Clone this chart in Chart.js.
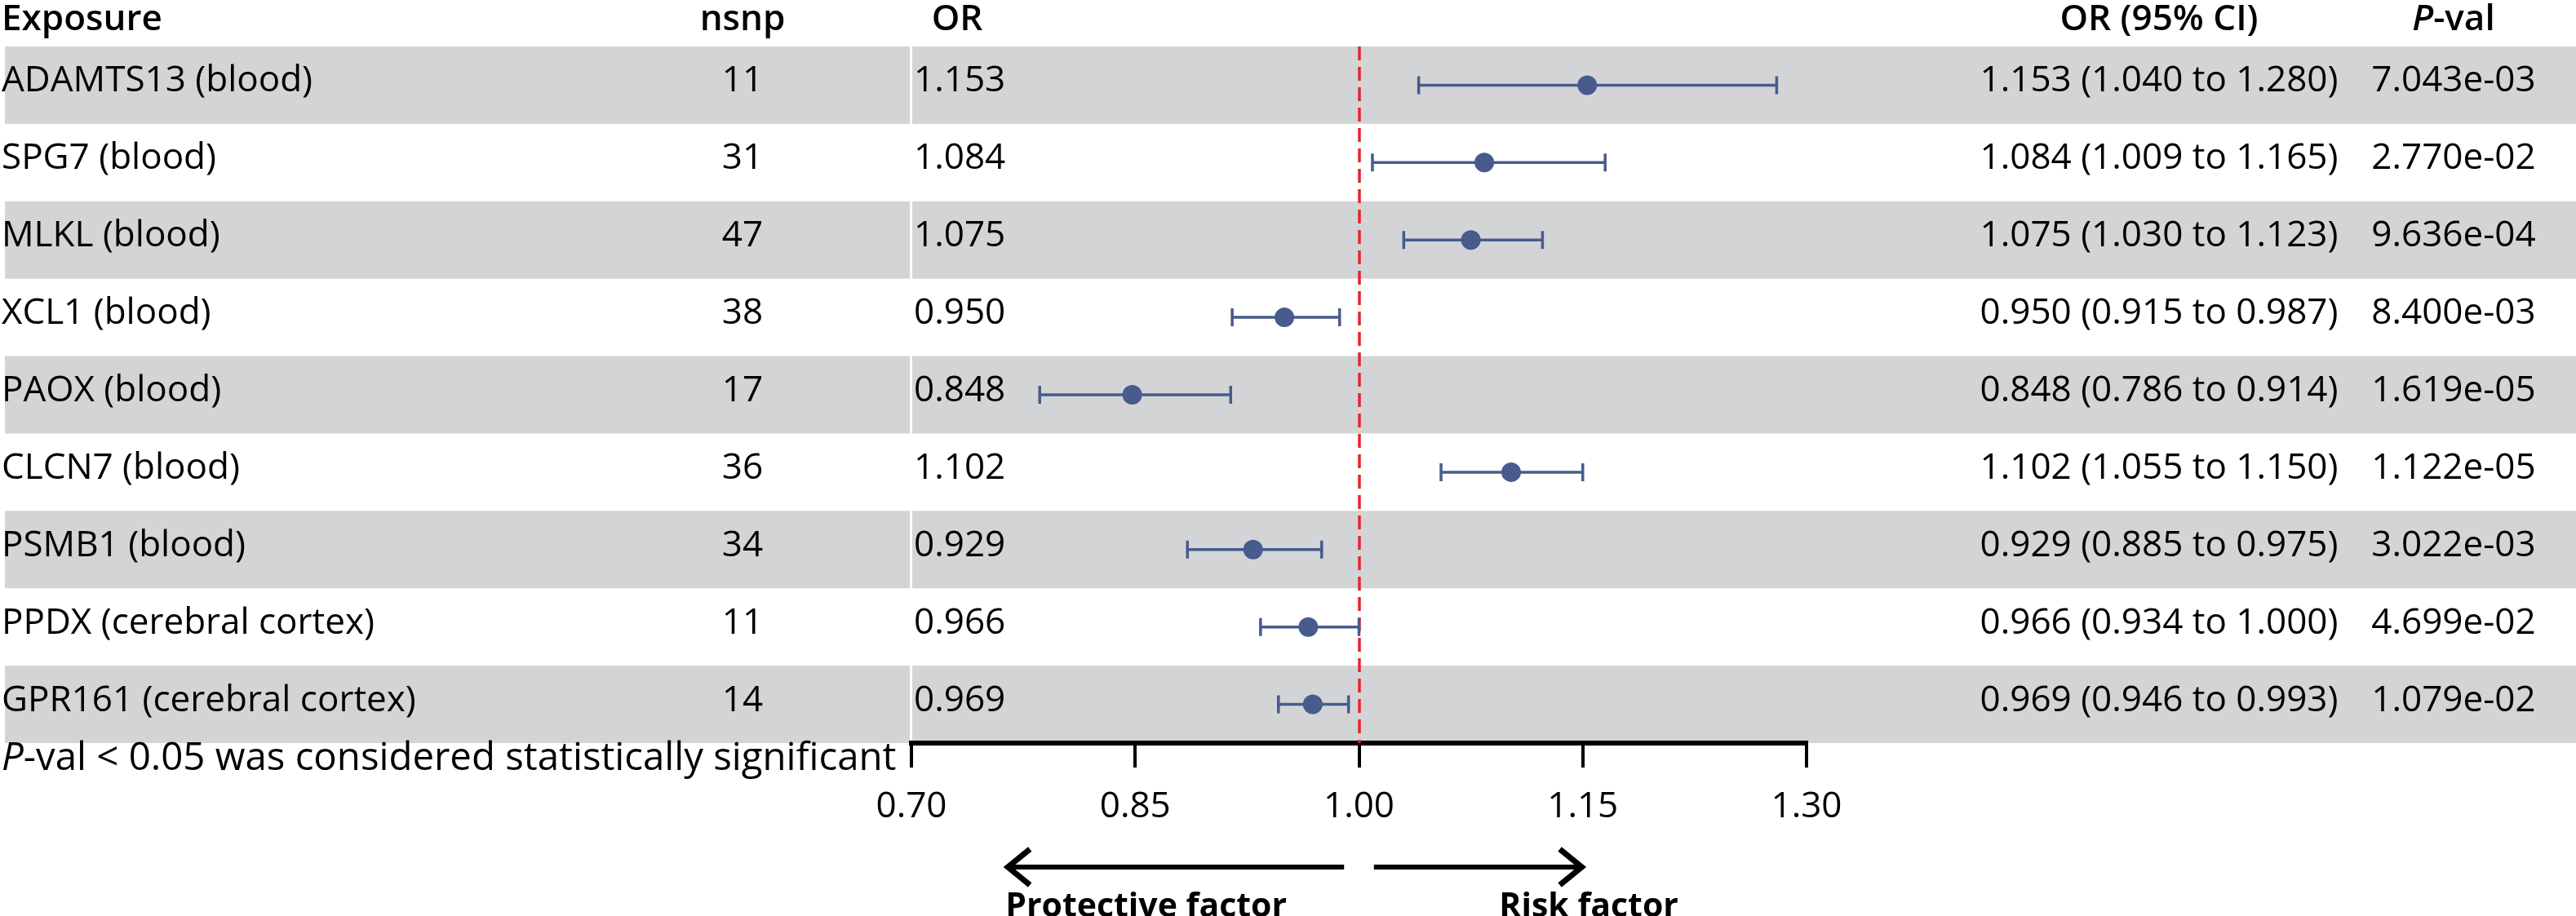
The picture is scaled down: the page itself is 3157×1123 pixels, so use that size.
<!DOCTYPE html>
<html>
<head>
<meta charset="utf-8">
<script src="https://cdn.jsdelivr.net/npm/chart.js@4.4.1/dist/chart.umd.min.js"></script>
<style>
  html, body { margin: 0; padding: 0; background: #fff; }
  canvas { display: block; }
</style>
</head>
<body>
<canvas id="forest" width="3157" height="1123" style="width:3157px;height:1123px"></canvas>
<script>
// data
const exposures = [
    "ADAMTS13 (blood)", "SPG7 (blood)", "MLKL (blood)", "XCL1 (blood)", "PAOX (blood)",
    "CLCN7 (blood)", "PSMB1 (blood)", "PPDX (cerebral cortex)", "GPR161 (cerebral cortex)"
];
const nsnp = [11, 31, 47, 38, 17, 36, 34, 11, 14];
const orValues = [1.153, 1.084, 1.075, 0.950, 0.848, 1.102, 0.929, 0.966, 0.969];
const ciLow = [1.040, 1.009, 1.030, 0.915, 0.786, 1.055, 0.885, 0.934, 0.946];
const ciHigh = [1.280, 1.165, 1.123, 0.987, 0.914, 1.150, 0.975, 1.000, 0.993];
const pValues = ["7.043e-03", "2.770e-02", "9.636e-04", "8.400e-03", "1.619e-05",
    "1.122e-05", "3.022e-03", "4.699e-02", "1.079e-02"];
const tickValues = [0.70, 0.85, 1.00, 1.15, 1.30];

// look
const FONT = "'Open Sans', 'Noto Sans', sans-serif";
const dotColor = "#475b8d";
const bandColor = "#d3d4d6";
const refLine = 1.0;

// column positions (px)
const colExposure = 2;
const colNsnp = 910;
const colOr = 1120;
const colOrHead = 1173;
const colCi = 2646;
const colP = 3007;

function drawParts(c, parts, x, y, align) {
    // parts: [[text, font], ...]
    let total = 0;
    parts.forEach(p => { c.font = p[1]; total += c.measureText(p[0]).width; });
    let start = x;
    if (align === "center") start = x - total / 2;
    else if (align === "right") start = x - total;
    c.textAlign = "left";
    parts.forEach(p => {
        c.font = p[1];
        c.fillText(p[0], start, y);
        start += c.measureText(p[0]).width;
    });
}

const forestPlugin = {
    id: "forest",
    beforeDraw(chart) {
        const c = chart.ctx;
        const yS = chart.scales.y;
        const area = chart.chartArea;
        c.save();
        // alternating row bands
        for (let i = 0; i < exposures.length; i += 2) {
            const top = yS.getPixelForValue(i - 0.5);
            const bot = yS.getPixelForValue(i + 0.5);
            c.fillStyle = bandColor;
            c.fillRect(6, top, chart.width - 6, bot - top);
            c.fillStyle = "#fff";
            c.fillRect(area.left - 2, top, 3, bot - top);
        }
        c.restore();
    },
    beforeDatasetsDraw(chart) {
        const c = chart.ctx;
        const xS = chart.scales.x;
        const yS = chart.scales.y;
        const area = chart.chartArea;
        c.save();
        // reference line at OR = 1
        c.strokeStyle = "#e8232b";
        c.lineWidth = 3.5;
        c.setLineDash([17, 8]);
        const xr = Math.round(xS.getPixelForValue(refLine));
        c.beginPath();
        c.moveTo(xr, area.top);
        c.lineTo(xr, area.bottom);
        c.stroke();
        c.setLineDash([]);
        // confidence intervals
        c.strokeStyle = dotColor;
        c.lineWidth = 3.5;
        for (let i = 0; i < orValues.length; i++) {
            const y = yS.getPixelForValue(i);
            const x1 = xS.getPixelForValue(ciLow[i]);
            const x2 = xS.getPixelForValue(ciHigh[i]);
            c.beginPath();
            c.moveTo(x1, y); c.lineTo(x2, y);
            c.moveTo(x1, y - 11); c.lineTo(x1, y + 11);
            c.moveTo(x2, y - 11); c.lineTo(x2, y + 11);
            c.stroke();
        }
        c.restore();
    },
    afterDraw(chart) {
        const c = chart.ctx;
        const xS = chart.scales.x;
        const yS = chart.scales.y;
        const reg = "400 44px " + FONT;
        const head = "600 44px " + FONT;
        const headIt = "italic 600 44px " + FONT;
        c.save();
        c.fillStyle = "#000";
        c.textBaseline = "alphabetic";

        // header
        const hy = 37;
        drawParts(c, [["Exposure", head]], colExposure, hy, "left");
        drawParts(c, [["nsnp", head]], colNsnp, hy, "center");
        drawParts(c, [["OR", head]], colOrHead, hy, "center");
        drawParts(c, [["OR (95% CI)", head]], colCi, hy, "center");
        drawParts(c, [["P", headIt], ["-val", head]], colP, hy, "center");

        // rows
        for (let i = 0; i < exposures.length; i++) {
            const y = yS.getPixelForValue(i) + 8;
            drawParts(c, [[exposures[i], reg]], colExposure, y, "left");
            drawParts(c, [[String(nsnp[i]), reg]], colNsnp, y, "center");
            drawParts(c, [[orValues[i].toFixed(3), reg]], colOr, y, "left");
            const ci = orValues[i].toFixed(3) + " (" + ciLow[i].toFixed(3) + " to " + ciHigh[i].toFixed(3) + ")";
            drawParts(c, [[ci, reg]], colCi, y, "center");
            drawParts(c, [[pValues[i], reg]], colP, y, "center");
        }

        // footnote, sized to span the same width as in the source
        const note = "-val < 0.05 was considered statistically significant";
        c.font = "400 44px " + FONT;
        let w = c.measureText(note).width;
        c.font = "italic 400 44px " + FONT;
        w += c.measureText("P").width;
        const fs = Math.min(50, 44 * 1097 / w);
        drawParts(c, [["P", "italic 400 " + fs + "px " + FONT], [note, "400 " + fs + "px " + FONT]], colExposure, 944, "left");

        // direction arrows
        const ay = 1063;
        const lA = [xS.getPixelForValue(0.99), xS.getPixelForValue(0.763)];
        const rA = [xS.getPixelForValue(1.01), xS.getPixelForValue(1.151)];
        c.strokeStyle = "#000";
        c.lineWidth = 6;
        c.lineCap = "butt";
        c.beginPath();
        c.moveTo(lA[0], ay); c.lineTo(lA[1] + 3, ay);
        c.moveTo(rA[0], ay); c.lineTo(rA[1] - 3, ay);
        c.stroke();
        c.lineWidth = 7;
        c.lineJoin = "miter";
        c.beginPath();
        c.moveTo(lA[1] + 30, ay - 22); c.lineTo(lA[1] + 3, ay); c.lineTo(lA[1] + 30, ay + 22);
        c.moveTo(rA[1] - 30, ay - 22); c.lineTo(rA[1] - 3, ay); c.lineTo(rA[1] - 30, ay + 22);
        c.stroke();

        const bold = "700 41px " + FONT;
        drawParts(c, [["Protective factor", bold]], xS.getPixelForValue(0.763), 1124, "left");
        drawParts(c, [["Risk factor", bold]], xS.getPixelForValue(1.094), 1124, "left");
        c.restore();
    }
};

new Chart(document.getElementById("forest"), {
    type: "scatter",
    data: {
        datasets: [{
            data: orValues.map((v, i) => ({ x: v, y: i })),
            pointRadius: 12,
            pointHoverRadius: 12,
            pointBackgroundColor: dotColor,
            pointBorderWidth: 0
        }]
    },
    options: {
        responsive: false,
        animation: false,
        devicePixelRatio: 1,
        layout: { padding: { left: 1117, right: 943, top: 57, bottom: 0 } },
        plugins: {
            legend: { display: false },
            tooltip: { enabled: false }
        },
        scales: {
            x: {
                type: "linear",
                min: 0.7,
                max: 1.3,
                afterBuildTicks: s => { s.ticks = tickValues.map(v => ({ value: v })); },
                afterFit: s => { s.height = 212; },
                grid: { drawOnChartArea: false, drawTicks: true, tickLength: 30, color: "#000", lineWidth: 4 },
                border: { display: true, color: "#000", width: 6 },
                ticks: {
                    callback: v => Number(v).toFixed(2),
                    font: { family: FONT, size: 44 },
                    color: "#000",
                    padding: 22,
                    maxRotation: 0,
                    autoSkip: false
                }
            },
            y: { type: "linear", min: -0.5, max: 8.5, reverse: true, display: false }
        }
    },
    plugins: [forestPlugin]
});
</script>
</body>
</html>
